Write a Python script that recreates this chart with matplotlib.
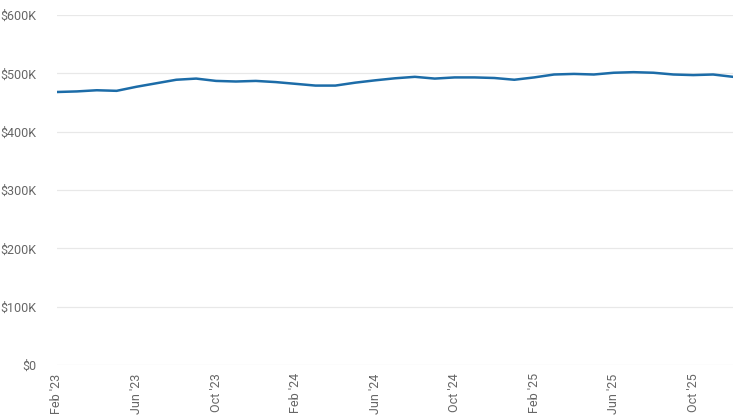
import matplotlib
matplotlib.use("Agg")
import matplotlib.pyplot as plt
from matplotlib.ticker import FuncFormatter

months = ["Feb '23", "Mar '23", "Apr '23", "May '23", "Jun '23", "Jul '23", "Aug '23", "Sep '23",
          "Oct '23", "Nov '23", "Dec '23", "Jan '24", "Feb '24", "Mar '24", "Apr '24", "May '24",
          "Jun '24", "Jul '24", "Aug '24", "Sep '24", "Oct '24", "Nov '24", "Dec '24", "Jan '25",
          "Feb '25", "Mar '25", "Apr '25", "May '25", "Jun '25", "Jul '25", "Aug '25", "Sep '25",
          "Oct '25", "Nov '25", "Dec '25"]
values = [468000, 469000, 471000, 470000, 477000, 483000, 489000, 491000,
          487000, 486000, 487000, 485000, 482000, 479000, 479000, 484000,
          488000, 491500, 494000, 491000, 493000, 493000, 492000, 489000,
          493000, 498000, 499000, 498000, 501000, 502000, 501000, 498000,
          497000, 498000, 494000]
yticks = [0, 100000, 200000, 300000, 400000, 500000, 600000]
tick_every = 4

plt.rcParams['font.family'] = ['Roboto', 'DejaVu Sans']

fig = plt.figure(figsize=(7.49, 4.18), dpi=100)
ax = fig.add_axes([57/749, 1-365/418, (733-57)/749, 350/418])

x = list(range(len(months)))
ax.plot(x, values, color="#1c6ca8", linewidth=1.8, solid_joinstyle="round", solid_capstyle="round")

ax.set_xlim(0, len(months)-1)
ax.set_ylim(0, 600000)
ax.set_yticks(yticks)
ax.yaxis.set_major_formatter(FuncFormatter(lambda v, p: "$0" if v == 0 else f"${int(v/1000)}K"))
ax.set_xticks(x[::tick_every])
ax.set_xticklabels(months[::tick_every], rotation=90)

ax.grid(axis="y", color="#e8e8e8", linewidth=0.9)
ax.set_axisbelow(True)
for s in ax.spines.values():
    s.set_visible(False)
ax.tick_params(axis="both", length=0, labelsize=9.0, colors="#666666")
ax.tick_params(axis="y", pad=15)
ax.tick_params(axis="x", pad=6)

fig.savefig("out.png", dpi=100)
